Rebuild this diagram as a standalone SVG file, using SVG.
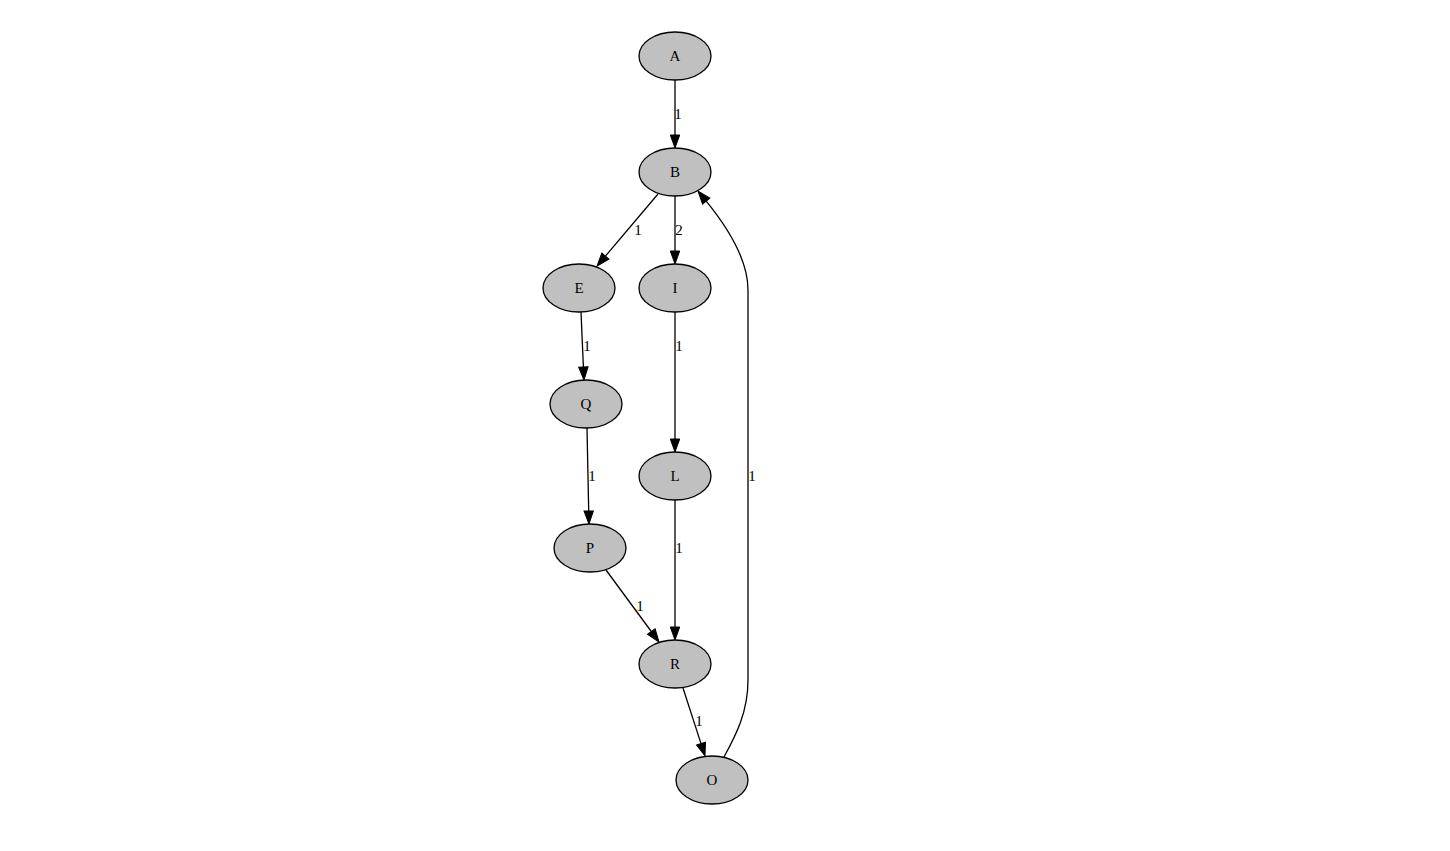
<svg xmlns="http://www.w3.org/2000/svg" width="1450" height="851" viewBox="0 0 1450 851">
<style>
.node ellipse{fill:#c0c0c0;stroke:#000;stroke-width:1.3}
.node text{font-family:"Liberation Serif","Times New Roman",serif;font-size:15px;text-anchor:middle;fill:#000}
.edge path{fill:none;stroke:#000;stroke-width:1.3}
.lbl{font-family:"Liberation Serif","Times New Roman",serif;font-size:15px;text-anchor:middle;fill:#000}
</style>
<defs>
<marker id="arr" markerUnits="userSpaceOnUse" markerWidth="13" markerHeight="10" viewBox="0 0 13 10" refX="0" refY="5" orient="auto" overflow="visible">
<path d="M0,0.3 L13,5 L0,9.7 z" fill="#000" stroke="#000" stroke-width="1"/>
</marker>
</defs>
<rect width="1450" height="851" fill="#fff"/>
<g id="edges">
<g class="edge"><path d="M675,80 L675,135" marker-end="url(#arr)"/><text class="lbl" x="678" y="119">1</text></g>
<g class="edge"><path d="M658,194 L605.4,256.1" marker-end="url(#arr)"/><text class="lbl" x="638" y="235">1</text></g>
<g class="edge"><path d="M675,196 L675,251" marker-end="url(#arr)"/><text class="lbl" x="679" y="235">2</text></g>
<g class="edge"><path d="M581,312 L583.4,367" marker-end="url(#arr)"/><text class="lbl" x="587" y="351">1</text></g>
<g class="edge"><path d="M675,312 L675,439" marker-end="url(#arr)"/><text class="lbl" x="679" y="351">1</text></g>
<g class="edge"><path d="M587,428 L588.7,511" marker-end="url(#arr)"/><text class="lbl" x="592" y="481">1</text></g>
<g class="edge"><path d="M675,500 L675,627" marker-end="url(#arr)"/><text class="lbl" x="679" y="553">1</text></g>
<g class="edge"><path d="M606,570 L651.3,631.5" marker-end="url(#arr)"/><text class="lbl" x="640" y="611">1</text></g>
<g class="edge"><path d="M683,688 L701,743.6" marker-end="url(#arr)"/><text class="lbl" x="699" y="726">1</text></g>
<g class="edge"><path d="M724,757 C736,735 748,712 748,680 L748,290 C748,255 722,220.5 706.2,201.1" marker-end="url(#arr)"/><text class="lbl" x="752" y="481">1</text></g>
</g>
<g id="node-A" class="node"><ellipse cx="675" cy="56" rx="36" ry="24"/><text x="675" y="61">A</text></g>
<g id="node-B" class="node"><ellipse cx="675" cy="172" rx="36" ry="24"/><text x="675" y="177">B</text></g>
<g id="node-E" class="node"><ellipse cx="579" cy="288" rx="36" ry="24"/><text x="579" y="293">E</text></g>
<g id="node-I" class="node"><ellipse cx="675" cy="288" rx="36" ry="24"/><text x="675" y="293">I</text></g>
<g id="node-Q" class="node"><ellipse cx="586" cy="404" rx="36" ry="24"/><text x="586" y="409">Q</text></g>
<g id="node-L" class="node"><ellipse cx="675" cy="476" rx="36" ry="24"/><text x="675" y="481">L</text></g>
<g id="node-P" class="node"><ellipse cx="590" cy="548" rx="36" ry="24"/><text x="590" y="553">P</text></g>
<g id="node-R" class="node"><ellipse cx="675" cy="664" rx="36" ry="24"/><text x="675" y="669">R</text></g>
<g id="node-O" class="node"><ellipse cx="712" cy="780" rx="36" ry="24"/><text x="712" y="785">O</text></g>
</svg>
